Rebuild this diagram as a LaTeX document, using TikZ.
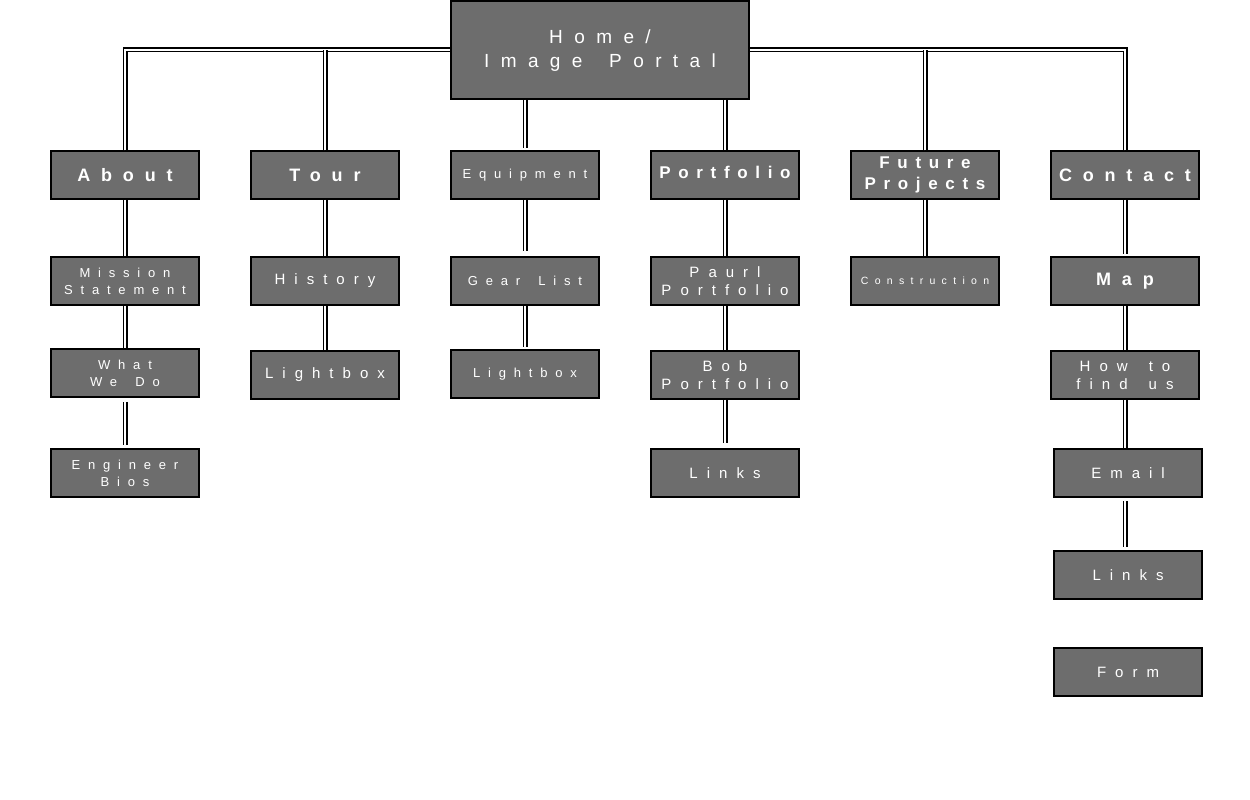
\documentclass[tikz,border=0pt]{standalone}
\usepackage{fontspec}
\newfontfamily\lbl[LetterSpace=60,WordSpace=1.6]{Liberation Sans}
\newfontfamily\lblnarrow[LetterSpace=45,WordSpace=1.6]{Liberation Sans}
\definecolor{boxgray}{RGB}{109,109,109}
\tikzset{
  box/.style={draw=black, line width=1.5pt, fill=boxgray, text=white,
    minimum width=148pt, minimum height=48pt, inner sep=0pt, align=center},
  homebox/.style={box, minimum width=298pt, minimum height=98pt},
  conn/.style={draw=black, line width=1.4pt, double=white, double distance=2.2pt},
  big/.style={font=\lbl\bfseries\fontsize{18}{21}\selectfont},
  med/.style={font=\lbl\fontsize{15}{18}\selectfont},
  sml/.style={font=\lbl\fontsize{13}{17}\selectfont},
  tiny/.style={font=\lbl\fontsize{10.5}{12}\selectfont}
}
\begin{document}
\begin{tikzpicture}[x=1pt,y=-1pt]
\useasboundingbox (0,0) rectangle (1250,800);
% nodes
\node[homebox, font=\lbl\fontsize{19}{24}\selectfont, text depth=2pt] (home) at (600,50) {Home/\\Image Portal};
\node[box, big] (about) at (125,175) {About};
\node[box, big] (tour) at (325,175) {Tour};
\node[box, sml] (equip) at (525,175) {Equipment};
\node[box, font=\lblnarrow\bfseries\fontsize{17}{21}\selectfont, text depth=6pt] (port) at (725,175) {Portfolio};
\node[box, font=\lblnarrow\bfseries\fontsize{17}{21}\selectfont] (future) at (925,175) {Future\\Projects};
\node[box, big] (contact) at (1125,175) {Contact};
\node[box, sml] (mission) at (125,281) {Mission\\Statement};
\node[box, med] (history) at (325,281) {History};
\node[box, sml] (gear) at (525,281) {Gear List};
\node[box, med] (paurl) at (725,281) {Paurl\\Portfolio};
\node[box, tiny] (constr) at (925,281) {Construction};
\node[box, big] (map) at (1125,281) {Map};
\node[box, sml] (what) at (125,373) {What\\We Do};
\node[box, med] (light1) at (325,375) {Lightbox};
\node[box, sml] (light2) at (525,374) {Lightbox};
\node[box, med] (bob) at (725,375) {Bob\\Portfolio};
\node[box, med] (how) at (1125,375) {How to\\find us};
\node[box, sml] (bios) at (125,473) {Engineer\\Bios};
\node[box, med] (links1) at (725,473) {Links};
\node[box, med] (email) at (1128,473) {Email};
\node[box, med] (links2) at (1128,575) {Links};
\node[box, med] (form) at (1128,672) {Form};
% top connectors
\draw[conn] (about.north) |- (home.west);
\draw[conn] (tour.north) -- (tour.north |- home.west);
\draw[conn] (contact.north) |- (home.east);
\draw[conn] (future.north) -- (future.north |- home.east);
\draw[conn, shorten >=2pt] (equip.north |- home.south) -- (equip.north);
\draw[conn] (port.north |- home.south) -- (port.north);
% column connectors
\draw[conn] (about.south) -- (mission.north);
\draw[conn] (mission.south) -- (what.north);
\draw[conn, shorten <=4pt, shorten >=3pt] (what.south) -- (bios.north);
\draw[conn] (tour.south) -- (history.north);
\draw[conn] (history.south) -- (light1.north);
\draw[conn, shorten >=5pt] (equip.south) -- (gear.north);
\draw[conn, shorten >=2pt] (gear.south) -- (light2.north);
\draw[conn] (port.south) -- (paurl.north);
\draw[conn] (paurl.south) -- (bob.north);
\draw[conn, shorten >=5pt] (bob.south) -- (links1.north);
\draw[conn] (future.south) -- (constr.north);
\draw[conn, shorten >=2pt] (contact.south) -- (map.north);
\draw[conn] (map.south) -- (how.north);
\draw[conn] (how.south) -- (how.south |- email.north);
\draw[conn, shorten <=3pt, shorten >=3pt] (email.south -| how.south) -- (how.south |- links2.north);
\end{tikzpicture}
\end{document}
